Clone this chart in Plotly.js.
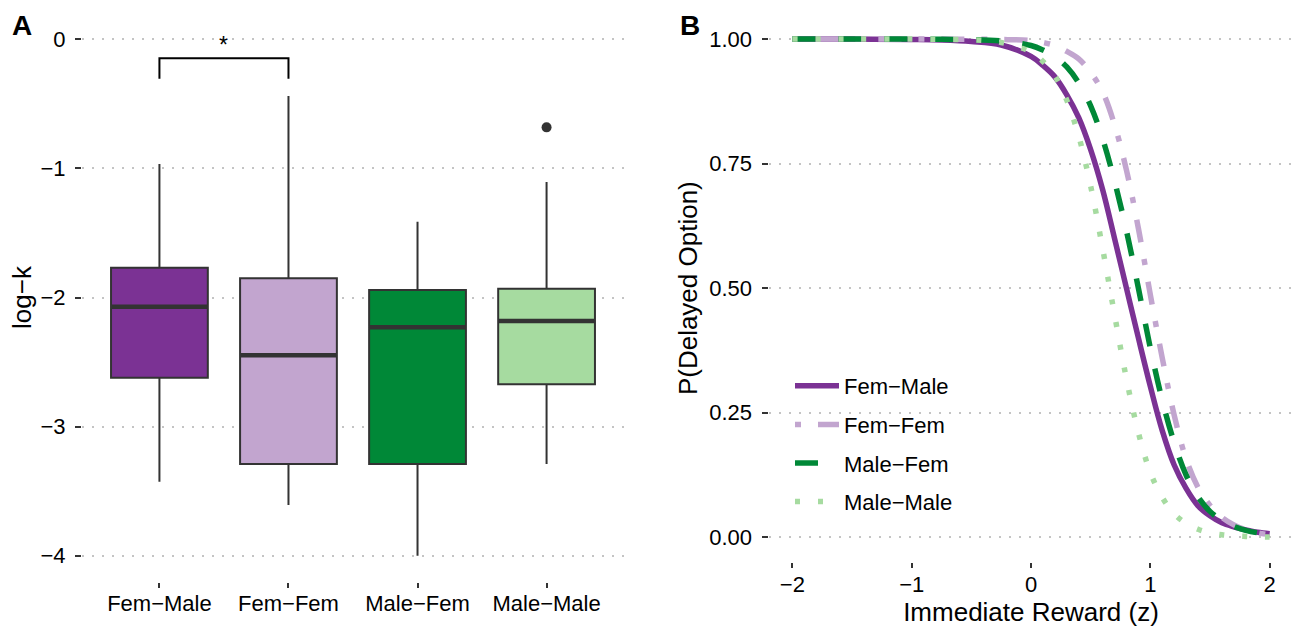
<!DOCTYPE html>
<html>
<head>
<meta charset="utf-8">
<script src="https://cdn.plot.ly/plotly-3.0.1.min.js"></script>
<style>
  html, body { margin: 0; padding: 0; background: #ffffff; }
  #chart { width: 1296px; height: 627px; }
</style>
</head>
<body>
<div id="chart"></div>
<script>
// ---------- Panel A: log-k by dyad (box statistics) ----------
const categories = ['Fem\u2212Male', 'Fem\u2212Fem', 'Male\u2212Fem', 'Male\u2212Male'];
const boxQ1 = [-2.621, -3.290, -3.290, -2.672];
const boxMedian = [-2.071, -2.448, -2.231, -2.182];
const boxQ3 = [-1.769, -1.851, -1.942, -1.932];
const boxLowerWhisker = [-3.427, -3.607, -4.000, -3.290];
const boxUpperWhisker = [-0.966, -0.439, -1.413, -1.105];
const outlierGroup = [4];
const outlierValue = [-0.682];
const bracketX = [1, 1, 2, 2];
const bracketY = [-0.305, -0.147, -0.147, -0.305];
const bracketLabel = '*';
const bracketLabelY = 0.0;

// ---------- Panel B: P(Delayed Option) vs Immediate Reward (z) ----------
const zValues = [-2, -1.5, -1, -0.75, -0.5, -0.25, 0, 0.1, 0.2, 0.3, 0.4, 0.5, 0.6, 0.7, 0.8, 0.9,
                 1.0, 1.1, 1.2, 1.3, 1.4, 1.5, 1.6, 1.7, 1.8, 1.9, 2.0];
const pFemMale = [1.000, 0.9998, 0.999, 0.998, 0.995, 0.988, 0.965, 0.947, 0.924, 0.888, 0.842, 0.778, 0.698,
                  0.600, 0.500, 0.400, 0.303, 0.214, 0.145, 0.098, 0.063, 0.043, 0.029, 0.021, 0.015, 0.010, 0.007];
const pFemFem = [1.000, 1.000, 1.000, 0.9998, 0.9995, 0.999, 0.997, 0.993, 0.987, 0.975, 0.960, 0.933, 0.894,
                 0.828, 0.737, 0.620, 0.487, 0.360, 0.245, 0.157, 0.100, 0.064, 0.040, 0.025, 0.015, 0.009, 0.005];
const pMaleFem = [1.000, 0.9999, 0.9998, 0.9993, 0.9988, 0.996, 0.987, 0.978, 0.965, 0.944, 0.912, 0.866, 0.800,
                  0.715, 0.615, 0.500, 0.380, 0.275, 0.190, 0.125, 0.081, 0.052, 0.034, 0.022, 0.014, 0.009, 0.006];
const pMaleMale = [1.000, 1.000, 0.9998, 0.9993, 0.9985, 0.993, 0.974, 0.955, 0.926, 0.877, 0.805, 0.705, 0.580,
                   0.447, 0.318, 0.210, 0.130, 0.080, 0.047, 0.028, 0.016, 0.009, 0.005, 0.003, 0.0017, 0.001, 0.0006];

const dyadColors = ['#7B3294', '#C2A5CF', '#008837', '#A6DBA0'];
const curveDash = ['solid', '6px,17px,23px,17px', '23px,23px', '5px,18px'];

const FONT = 'Liberation Sans, Arial, Helvetica, sans-serif';
const INK = '#333333';

const traces = [];

// boxes
for (let i = 0; i < categories.length; i++) {
  traces.push({
    type: 'box', xaxis: 'x', yaxis: 'y',
    x: [i + 1], q1: [boxQ1[i]], median: [boxMedian[i]], q3: [boxQ3[i]],
    lowerfence: [boxLowerWhisker[i]], upperfence: [boxUpperWhisker[i]],
    width: 0.75, whiskerwidth: 0, boxpoints: false,
    fillcolor: dyadColors[i], line: { color: INK, width: 2 },
    showlegend: false, hoverinfo: 'skip', name: categories[i]
  });
}
// thick median lines (ggplot style)
for (let i = 0; i < categories.length; i++) {
  traces.push({
    type: 'scatter', mode: 'lines', xaxis: 'x', yaxis: 'y',
    x: [i + 1 - 0.375, i + 1 + 0.375], y: [boxMedian[i], boxMedian[i]],
    line: { color: INK, width: 4.5 }, showlegend: false, hoverinfo: 'skip'
  });
}
// outlier
traces.push({
  type: 'scatter', mode: 'markers', xaxis: 'x', yaxis: 'y',
  x: outlierGroup, y: outlierValue,
  marker: { color: INK, size: 10 }, showlegend: false, hoverinfo: 'skip'
});
// significance bracket
traces.push({
  type: 'scatter', mode: 'lines', xaxis: 'x', yaxis: 'y',
  x: bracketX, y: bracketY,
  line: { color: '#000000', width: 2 }, showlegend: false, hoverinfo: 'skip'
});

// curves
const curveSeries = [pFemMale, pFemFem, pMaleFem, pMaleMale];
for (let i = 0; i < categories.length; i++) {
  traces.push({
    type: 'scatter', mode: 'lines', xaxis: 'x2', yaxis: 'y2',
    x: zValues, y: curveSeries[i], name: categories[i],
    legendgroup: 'g' + i,
    line: { color: dyadColors[i], width: 5.5, dash: curveDash[i], shape: 'spline', smoothing: 1 },
    hoverinfo: 'skip'
  });
}

const gridStyle = { showgrid: true, gridcolor: '#c4c4c4', gridwidth: 2, griddash: '2px,8px' };

const layout = {
  width: 1296, height: 627,
  margin: { l: 0, r: 0, t: 0, b: 0 },
  paper_bgcolor: '#ffffff', plot_bgcolor: '#ffffff',
  font: { family: FONT, color: '#000000' },
  boxmode: 'overlay',
  showlegend: true,
  legend: {
    x: 790 / 1296, y: 1 - 365 / 627, xanchor: 'left', yanchor: 'top',
    bgcolor: 'rgba(0,0,0,0)', font: { size: 22, family: FONT, color: '#000000' },
    traceorder: 'grouped', tracegroupgap: 7, itemwidth: 44
  },
  xaxis: {
    domain: [82 / 1296, 624 / 1296], range: [0.4, 4.6], anchor: 'y',
    tickmode: 'array', tickvals: [1, 2, 3, 4], ticktext: categories,
    showgrid: false, zeroline: false, showline: false,
    ticks: 'outside', ticklen: 5, tickwidth: 2, tickcolor: INK,
    ticklabelstandoff: -3,
    tickfont: { size: 22, family: FONT, color: '#000000' }
  },
  yaxis: Object.assign({
    domain: [1 - 582 / 627, 1 - 13 / 627], range: [-4.204, 0.204], anchor: 'x',
    tickmode: 'array', tickvals: [0, -1, -2, -3, -4],
    zeroline: false, showline: false,
    ticks: 'outside', ticklen: 6, tickwidth: 2, tickcolor: INK,
    ticklabelstandoff: 5,
    tickfont: { size: 22, family: FONT, color: '#000000' },
    title: { text: 'log\u2212k', font: { size: 26, family: FONT, color: '#000000' }, standoff: 1 }
  }, gridStyle),
  xaxis2: {
    domain: [768.5 / 1296, 1293.5 / 1296], range: [-2.2, 2.2], anchor: 'y2',
    tickmode: 'array', tickvals: [-2, -1, 0, 1, 2],
    showgrid: false, zeroline: false, showline: false,
    ticks: 'outside', ticklen: 5, tickwidth: 2, tickcolor: INK,
    ticklabelstandoff: -3,
    tickfont: { size: 22, family: FONT, color: '#000000' },
    title: { text: 'Immediate Reward (z)', font: { size: 26, family: FONT, color: '#000000' }, standoff: 8 }
  },
  yaxis2: Object.assign({
    domain: [1 - 562.2 / 627, 1 - 14.1 / 627], range: [-0.05, 1.05], anchor: 'x2',
    tickmode: 'array', tickvals: [0, 0.25, 0.5, 0.75, 1], tickformat: '.2f',
    zeroline: false, showline: false,
    ticks: 'outside', ticklen: 6, tickwidth: 2, tickcolor: INK,
    ticklabelstandoff: 5,
    tickfont: { size: 22, family: FONT, color: '#000000' },
    title: { text: 'P(Delayed Option)', font: { size: 26, family: FONT, color: '#000000' }, standoff: 4 }
  }, gridStyle),
  annotations: [
    { text: '<b>A</b>', xref: 'paper', yref: 'paper', x: 22 / 1296, y: 1 - 25 / 627,
      xanchor: 'center', yanchor: 'middle', showarrow: false,
      font: { size: 28, family: FONT, color: '#000000' } },
    { text: '<b>B</b>', xref: 'paper', yref: 'paper', x: 690 / 1296, y: 1 - 25 / 627,
      xanchor: 'center', yanchor: 'middle', showarrow: false,
      font: { size: 28, family: FONT, color: '#000000' } },
    { text: bracketLabel, xref: 'x', yref: 'y', x: (bracketX[0] + bracketX[3]) / 2, y: bracketLabelY,
      xanchor: 'center', yanchor: 'middle', showarrow: false, yshift: -6,
      font: { size: 23, family: FONT, color: '#000000' } }
  ]
};

Plotly.newPlot('chart', traces, layout, { staticPlot: true, displayModeBar: false });
</script>
</body>
</html>
